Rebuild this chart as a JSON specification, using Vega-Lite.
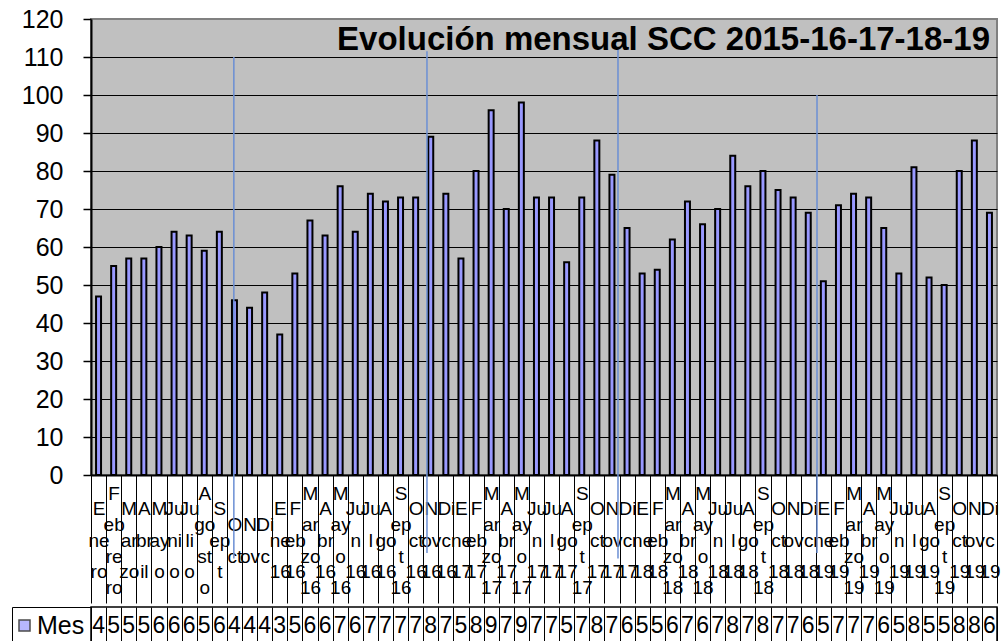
{
  "$schema": "https://vega.github.io/schema/vega-lite/v6.json",
  "padding": {"left": 10, "top": 6, "right": 2, "bottom": 0},
  "background": "white",
  "config": {
    "font": "Liberation Sans",
    "axis": {"labelFont": "Liberation Sans", "labelColor": "black"},
    "legend": {"labelFont": "Liberation Sans"}
  },
  "datasets": {
    "meses": [
      {"mes": "Enero", "valor": 47, "serie": "Mes"},
      {"mes": "Febrero", "valor": 55, "serie": "Mes"},
      {"mes": "Marzo", "valor": 57, "serie": "Mes"},
      {"mes": "Abril", "valor": 57, "serie": "Mes"},
      {"mes": "Mayo", "valor": 60, "serie": "Mes"},
      {"mes": "Junio", "valor": 64, "serie": "Mes"},
      {"mes": "Julio", "valor": 63, "serie": "Mes"},
      {"mes": "Agosto", "valor": 59, "serie": "Mes"},
      {"mes": "Sept", "valor": 64, "serie": "Mes"},
      {"mes": "Oct", "valor": 46, "serie": "Mes"},
      {"mes": "Nov", "valor": 44, "serie": "Mes"},
      {"mes": "Dic", "valor": 48, "serie": "Mes"},
      {"mes": "Ene 16", "valor": 37, "serie": "Mes"},
      {"mes": "Feb 16", "valor": 53, "serie": "Mes"},
      {"mes": "Marzo 16", "valor": 67, "serie": "Mes"},
      {"mes": "Abr 16", "valor": 63, "serie": "Mes"},
      {"mes": "Mayo 16", "valor": 76, "serie": "Mes"},
      {"mes": "Jun 16", "valor": 64, "serie": "Mes"},
      {"mes": "Jul 16", "valor": 74, "serie": "Mes"},
      {"mes": "Ago 16", "valor": 72, "serie": "Mes"},
      {"mes": "Sept 16", "valor": 73, "serie": "Mes"},
      {"mes": "Oct 16", "valor": 73, "serie": "Mes"},
      {"mes": "Nov 16", "valor": 89, "serie": "Mes"},
      {"mes": "Dic 16", "valor": 74, "serie": "Mes"},
      {"mes": "Ene 17", "valor": 57, "serie": "Mes"},
      {"mes": "Feb 17", "valor": 80, "serie": "Mes"},
      {"mes": "Marzo 17", "valor": 96, "serie": "Mes"},
      {"mes": "Abr 17", "valor": 70, "serie": "Mes"},
      {"mes": "Mayo 17", "valor": 98, "serie": "Mes"},
      {"mes": "Jun 17", "valor": 73, "serie": "Mes"},
      {"mes": "Jul 17", "valor": 73, "serie": "Mes"},
      {"mes": "Ago 17", "valor": 56, "serie": "Mes"},
      {"mes": "Sept 17", "valor": 73, "serie": "Mes"},
      {"mes": "Oct 17", "valor": 88, "serie": "Mes"},
      {"mes": "Nov 17", "valor": 79, "serie": "Mes"},
      {"mes": "Dic 17", "valor": 65, "serie": "Mes"},
      {"mes": "Ene 18", "valor": 53, "serie": "Mes"},
      {"mes": "Feb 18", "valor": 54, "serie": "Mes"},
      {"mes": "Marzo 18", "valor": 62, "serie": "Mes"},
      {"mes": "Abr 18", "valor": 72, "serie": "Mes"},
      {"mes": "Mayo 18", "valor": 66, "serie": "Mes"},
      {"mes": "Jun 18", "valor": 70, "serie": "Mes"},
      {"mes": "Jul 18", "valor": 84, "serie": "Mes"},
      {"mes": "Ago 18", "valor": 76, "serie": "Mes"},
      {"mes": "Sept 18", "valor": 80, "serie": "Mes"},
      {"mes": "Oct 18", "valor": 75, "serie": "Mes"},
      {"mes": "Nov 18", "valor": 73, "serie": "Mes"},
      {"mes": "Dic 18", "valor": 69, "serie": "Mes"},
      {"mes": "Ene 19", "valor": 51, "serie": "Mes"},
      {"mes": "Feb 19", "valor": 71, "serie": "Mes"},
      {"mes": "Marzo 19", "valor": 74, "serie": "Mes"},
      {"mes": "Abr 19", "valor": 73, "serie": "Mes"},
      {"mes": "Mayo 19", "valor": 65, "serie": "Mes"},
      {"mes": "Jun 19", "valor": 53, "serie": "Mes"},
      {"mes": "Jul 19", "valor": 81, "serie": "Mes"},
      {"mes": "Ago 19", "valor": 52, "serie": "Mes"},
      {"mes": "Sept 19", "valor": 50, "serie": "Mes"},
      {"mes": "Oct 19", "valor": 80, "serie": "Mes"},
      {"mes": "Nov 19", "valor": 88, "serie": "Mes"},
      {"mes": "Dic 19", "valor": 69, "serie": "Mes"}
    ]
  },
  "spacing": 0,
  "resolve": {
    "scale": {"x": "independent", "color": "independent"},
    "legend": {"color": "independent"}
  },
  "vconcat": [
    {
      "width": 906,
      "height": 456,
      "data": {"name": "meses"},
      "view": {"fill": "#c0c0c0", "stroke": "#808080", "strokeWidth": 2},
      "title": {
        "text": "Evolución mensual SCC 2015-16-17-18-19",
        "anchor": "end",
        "frame": "group",
        "orient": "top",
        "baseline": "alphabetic",
        "offset": -76,
        "dx": -7,
        "font": "Liberation Sans",
        "fontSize": 33,
        "fontWeight": "bold",
        "color": "black"
      },
      "resolve": {"axis": {"x": "independent", "y": "independent"}},
      "layer": [
        {
          "mark": {"type": "bar", "fill": "#9999ff", "stroke": "black", "strokeWidth": 2, "width": {"band": 0.33}},
          "encoding": {
            "x": {
              "field": "mes",
              "type": "nominal",
              "sort": null,
              "scale": {
                "paddingInner": 0,
                "paddingOuter": 0,
                "domain": ["Enero","Febrero","Marzo","Abril","Mayo","Junio","Julio","Agosto","Sept","Oct","Nov","Dic","Ene 16","Feb 16","Marzo 16","Abr 16","Mayo 16","Jun 16","Jul 16","Ago 16","Sept 16","Oct 16","Nov 16","Dic 16","Ene 17","Feb 17","Marzo 17","Abr 17","Mayo 17","Jun 17","Jul 17","Ago 17","Sept 17","Oct 17","Nov 17","Dic 17","Ene 18","Feb 18","Marzo 18","Abr 18","Mayo 18","Jun 18","Jul 18","Ago 18","Sept 18","Oct 18","Nov 18","Dic 18","Ene 19","Feb 19","Marzo 19","Abr 19","Mayo 19","Jun 19","Jul 19","Ago 19","Sept 19","Oct 19","Nov 19","Dic 19"]
              },
              "axis": {
                "title": null,
                "labelAngle": 0,
                "labelAlign": "center",
                "labelBaseline": "middle",
                "labelFontSize": 19,
                "labelLineHeight": 15.75,
                "labelPadding": -110,
                "labelOverlap": false,
                "labelLimit": 0,
                "labelExpr": "split(substring('\u200b|\u200b|\u200b|',0,2*(4-(1+(length(split(datum.label,' ')[0])>(indexof(['Ju','Di'],substring(datum.label,0,2))>=0?2:1))+(length(split(datum.label,' ')[0])>(indexof(['Ju','Di'],substring(datum.label,0,2))>=0?2:1)+2)+(length(split(datum.label,' ')[0])>(indexof(['Ju','Di'],substring(datum.label,0,2))>=0?2:1)+4)+(indexof(datum.label,' ')>0))))+substring(split(datum.label,' ')[0],0,(indexof(['Ju','Di'],substring(datum.label,0,2))>=0?2:1))+(length(split(datum.label,' ')[0])>(indexof(['Ju','Di'],substring(datum.label,0,2))>=0?2:1)?'|\u200b|'+substring(split(datum.label,' ')[0],(indexof(['Ju','Di'],substring(datum.label,0,2))>=0?2:1),(indexof(['Ju','Di'],substring(datum.label,0,2))>=0?2:1)+2):'')+(length(split(datum.label,' ')[0])>(indexof(['Ju','Di'],substring(datum.label,0,2))>=0?2:1)+2?'|\u200b|'+substring(split(datum.label,' ')[0],(indexof(['Ju','Di'],substring(datum.label,0,2))>=0?2:1)+2,(indexof(['Ju','Di'],substring(datum.label,0,2))>=0?2:1)+4):'')+(length(split(datum.label,' ')[0])>(indexof(['Ju','Di'],substring(datum.label,0,2))>=0?2:1)+4?'|\u200b|'+substring(split(datum.label,' ')[0],(indexof(['Ju','Di'],substring(datum.label,0,2))>=0?2:1)+4,(indexof(['Ju','Di'],substring(datum.label,0,2))>=0?2:1)+6):'')+(indexof(datum.label,' ')>0?'|\u200b|'+split(datum.label,' ')[1]:''),'|')",
                "tickBand": "extent",
                "tickSize": 128,
                "tickColor": "black",
                "tickWidth": 1,
                "domainColor": "black",
                "domainWidth": 2,
                "grid": false
              }
            },
            "y": {
              "field": "valor",
              "type": "quantitative",
              "scale": {"domain": [0, 120], "nice": false},
              "axis": {
                "title": null,
                "values": [0, 10, 20, 30, 40, 50, 60, 70, 80, 90, 100, 110, 120],
                "labelFontSize": 25,
                "labelPadding": 20,
                "labelOverlap": false,
                "tickSize": 8,
                "tickColor": "black",
                "tickWidth": 1.5,
                "domainColor": "black",
                "domainWidth": 2,
                "grid": true,
                "gridColor": {"condition": {"test": "datum.value === 120", "value": "#808080"}, "value": "black"},
                "gridWidth": 1.2,
                "gridOpacity": 1
              }
            }
          }
        },
        {
          "transform": [{"filter": "datum.mes === 'Oct'"}],
          "mark": {"type": "rule", "color": "#6b8fd4", "strokeWidth": 1.5},
          "encoding": {
            "x": {"field": "mes", "type": "nominal", "sort": null, "bandPosition": 0.46, "axis": null},
            "y": {"datum": 110, "axis": null},
            "y2": {"datum": -22}
          }
        },
        {
          "transform": [{"filter": "datum.mes === 'Nov 16'"}],
          "mark": {"type": "rule", "color": "#6b8fd4", "strokeWidth": 1.5},
          "encoding": {
            "x": {"field": "mes", "type": "nominal", "sort": null, "bandPosition": 0.25, "axis": null},
            "y": {"datum": 111.5, "axis": null},
            "y2": {"datum": -20.5}
          }
        },
        {
          "transform": [{"filter": "datum.mes === 'Nov 17'"}],
          "mark": {"type": "rule", "color": "#6b8fd4", "strokeWidth": 1.5},
          "encoding": {
            "x": {"field": "mes", "type": "nominal", "sort": null, "bandPosition": 0.9, "axis": null},
            "y": {"datum": 112, "axis": null},
            "y2": {"datum": -22}
          }
        },
        {
          "transform": [{"filter": "datum.mes === 'Dic 18'"}],
          "mark": {"type": "rule", "color": "#6b8fd4", "strokeWidth": 1.5},
          "encoding": {
            "x": {"field": "mes", "type": "nominal", "sort": null, "bandPosition": 1.08, "axis": null},
            "y": {"datum": 100, "axis": null},
            "y2": {"datum": -20.5}
          }
        }
      ]
    },
    {
      "width": 906,
      "height": 37,
      "data": {"name": "meses"},
      "view": {"fill": "white", "stroke": "black", "strokeWidth": 1.5},
      "encoding": {
        "x": {
          "field": "mes",
          "type": "nominal",
          "sort": null,
          "scale": {"paddingInner": 0, "paddingOuter": 0},
          "axis": {"title": null, "labels": false, "ticks": false, "domain": false, "grid": true, "gridColor": "black", "gridWidth": 1, "gridOpacity": 1, "tickBand": "extent"}
        },
        "y": {"field": "serie", "type": "nominal", "axis": null}
      },
      "layer": [
        {
          "mark": {"type": "text", "font": "Liberation Sans", "fontSize": 23, "limit": 15, "ellipsis": "\u200b", "align": "center", "baseline": "middle", "color": "black"},
          "encoding": {
            "text": {"field": "valor", "type": "quantitative"}
          }
        },
        {
          "mark": {"type": "point", "shape": "square", "filled": true, "size": 0, "stroke": "black", "strokeWidth": 1.5},
          "encoding": {
            "color": {
              "field": "serie",
              "type": "nominal",
              "scale": {"range": ["#9999ff"]},
              "legend": {
                "title": null,
                "orient": "left",
                "offset": 0,
                "padding": 6,
                "strokeColor": "black",
                "symbolType": "square",
                "symbolSize": 121,
                "symbolStrokeWidth": 1.5,
                "symbolStrokeColor": "black",
                "symbolOffset": -6,
                "labelFontSize": 25,
                "labelColor": "black",
                "labelOffset": 0
              }
            }
          }
        }
      ]
    }
  ]
}
